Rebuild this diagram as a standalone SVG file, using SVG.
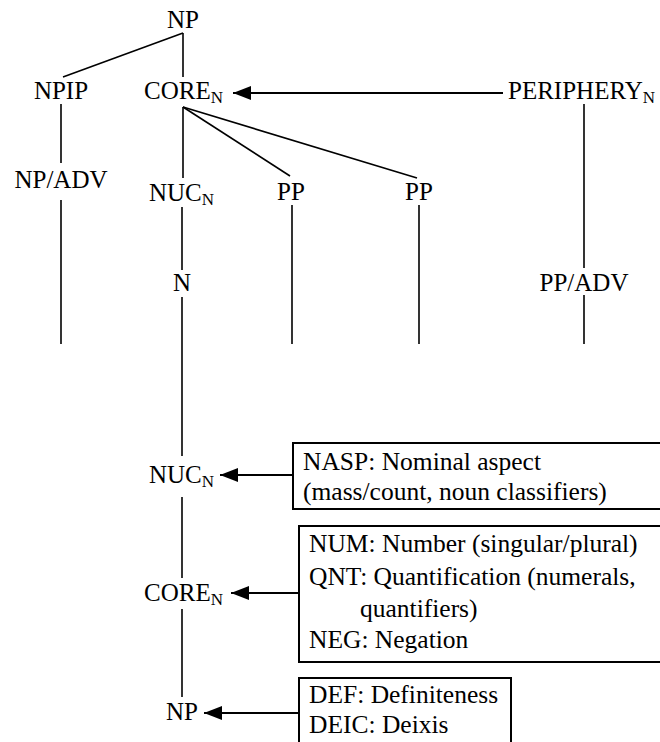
<svg xmlns="http://www.w3.org/2000/svg" width="660" height="742" viewBox="0 0 660 742" font-family="'Liberation Serif', 'Times New Roman', Times, serif">
  <style>
    text { font-family: 'Liberation Serif', 'Times New Roman', Times, serif; font-size: 25px; fill: #000; }
    .sub { font-size: 17px; }
    .box text { font-size: 25.5px; }
    .edge { stroke: #000; stroke-width: 1.6; fill: none; }
    .arrow { stroke: #000; stroke-width: 2; fill: none; marker-end: url(#head); }
    .frame { stroke: #000; stroke-width: 2; fill: #fff; }
  </style>
  <defs>
    <marker id="head" markerUnits="userSpaceOnUse" markerWidth="20" markerHeight="16" refX="18" refY="7" orient="auto">
      <polygon points="0,0 18,7 0,14" fill="#000"/>
    </marker>
  </defs>
  <rect width="660" height="742" fill="#fff"/>

  <g id="connectors">
    <!-- tree edges -->
    <line class="edge" x1="183" y1="33" x2="63" y2="77"/>
    <line class="edge" x1="183" y1="33" x2="183" y2="77"/>
    <line class="edge" x1="61" y1="104" x2="61" y2="163"/>
    <line class="edge" x1="61" y1="200" x2="61" y2="344"/>
    <line class="edge" x1="183" y1="107" x2="183" y2="178"/>
    <line class="edge" x1="183" y1="107" x2="290" y2="176"/>
    <line class="edge" x1="183" y1="107" x2="417" y2="178"/>
    <line class="edge" x1="292" y1="205" x2="292" y2="344"/>
    <line class="edge" x1="419" y1="205" x2="419" y2="344"/>
    <line class="edge" x1="584" y1="104" x2="584" y2="268"/>
    <line class="edge" x1="584" y1="295" x2="584" y2="344"/>
    <!-- nucleus spine -->
    <line class="edge" x1="182" y1="207" x2="182" y2="270"/>
    <line class="edge" x1="182" y1="297" x2="182" y2="456"/>
    <line class="edge" x1="182" y1="497" x2="182" y2="578"/>
    <line class="edge" x1="182" y1="609" x2="182" y2="697"/>
    <!-- arrows -->
    <line class="arrow" x1="503" y1="93" x2="233" y2="93"/>
    <line class="arrow" x1="293" y1="475" x2="220" y2="475"/>
    <line class="arrow" x1="298" y1="593" x2="231" y2="593"/>
    <line class="arrow" x1="298" y1="713" x2="204" y2="713"/>
  </g>

  <g id="np-top"><text x="183" y="28" text-anchor="middle">NP</text></g>
  <g id="npip"><text x="61" y="99" text-anchor="middle">NPIP</text></g>
  <g id="core-top"><text x="144" y="99">CORE<tspan class="sub" dy="4">N</tspan></text></g>
  <g id="periphery"><text x="508" y="99">PERIPHERY<tspan class="sub" dy="4">N</tspan></text></g>
  <g id="np-adv"><text x="61" y="188" text-anchor="middle">NP/ADV</text></g>
  <g id="nuc-top"><text x="149" y="201">NUC<tspan class="sub" dy="4">N</tspan></text></g>
  <g id="pp-1"><text x="291" y="200" text-anchor="middle">PP</text></g>
  <g id="pp-2"><text x="419" y="200" text-anchor="middle">PP</text></g>
  <g id="n"><text x="182" y="291" text-anchor="middle">N</text></g>
  <g id="pp-adv"><text x="584" y="291" text-anchor="middle">PP/ADV</text></g>

  <g id="nuc-low"><text x="149" y="483">NUC<tspan class="sub" dy="4">N</tspan></text></g>
  <g id="core-low"><text x="144" y="601">CORE<tspan class="sub" dy="4">N</tspan></text></g>
  <g id="np-low"><text x="182" y="720" text-anchor="middle">NP</text></g>

  <g id="box-nasp" class="box">
    <rect class="frame" x="293" y="443" width="400" height="66"/>
    <text x="303" y="470">NASP: Nominal aspect</text>
    <text x="303" y="500">(mass/count, noun classifiers)</text>
  </g>
  <g id="box-num" class="box">
    <rect class="frame" x="299" y="526" width="400" height="136"/>
    <text x="309" y="552">NUM: Number (singular/plural)</text>
    <text x="309" y="585">QNT: Quantification (numerals,</text>
    <text x="360" y="617">quantifiers)</text>
    <text x="309" y="648">NEG: Negation</text>
  </g>
  <g id="box-def" class="box">
    <rect class="frame" x="299" y="678" width="212" height="80"/>
    <text x="309" y="703">DEF: Definiteness</text>
    <text x="309" y="733">DEIC: Deixis</text>
  </g>
</svg>
